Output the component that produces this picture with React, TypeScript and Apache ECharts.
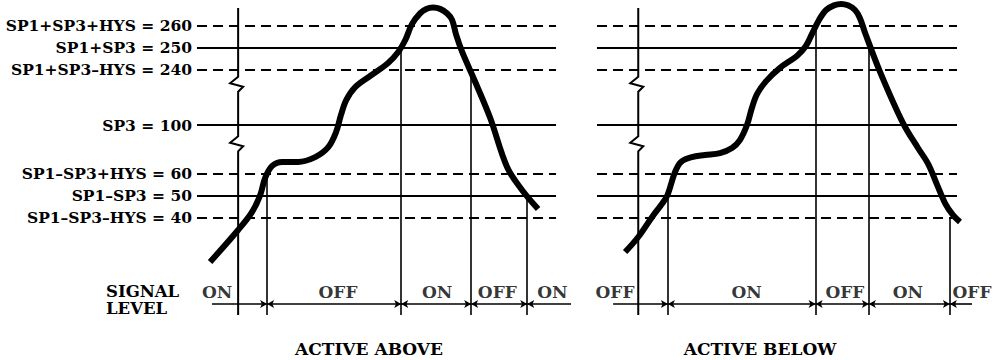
import React, { useEffect, useRef } from 'react';
import * as echarts from 'echarts';

// ---- Threshold levels (shown on both panels, labelled on the left one) ----
const LEVEL_LABELS = [
  'SP1+SP3+HYS = 260',
  'SP1+SP3 = 250',
  'SP1+SP3–HYS = 240',
  'SP3 = 100',
  'SP1–SP3+HYS = 60',
  'SP1–SP3 = 50',
  'SP1–SP3–HYS = 40',
];
const LEVEL_VALUES = [260, 250, 240, 100, 60, 50, 40];
const LEVEL_DASHED = [true, false, true, false, true, false, true];

// ---- Broken value axis ----
const Y_BREAKS = [
  { start: 73, end: 92 },
  { start: 118, end: 234 },
];
const Y_MIN = -4;
const Y_MAX = 268;
const X_MIN = -11;
const X_MAX = 89;
const LINE_START = -11;
const LINE_END = 85;
const SIGNAL_VALUE = 1;

// ---- ACTIVE ABOVE panel ----
const ABOVE_TIME = [-7.5, 0, 3.7, 5.9, 7.2, 9.1, 11.8, 16.0, 20.6, 24.1, 26.2, 27.5, 28.9, 31.3, 35.3, 40.1, 42.8, 44.7, 46.5, 48.7, 50.3, 52.1, 54.0, 55.9, 57.2, 58.3, 59.9, 63.4, 67.4, 71.9, 75.9, 80.2];
const ABOVE_VALUE = [20.0, 34.5, 42.6, 50.3, 58.0, 63.5, 65.3, 65.3, 67.5, 72.0, 96.9, 104.6, 111.3, 117.2, 237.2, 243.1, 248.1, 253.5, 260.8, 265.7, 267.6, 268.2, 267.6, 265.5, 262.6, 255.8, 248.1, 234.5, 103.2, 63.0, 52.6, 44.0];
const ABOVE_SWITCH_TIME = [7.75, 43.6, 62.3, 77.3];
const ABOVE_SWITCH_LEVEL = [60, 250, 240, 50];
const ABOVE_STATES = ['ON', 'OFF', 'ON', 'OFF', 'ON'];
const ABOVE_STATE_TIME = [-5.6, 26.7, 53.2, 69.3, 84.0];
const ABOVE_SIGNAL_START = -7;

// ---- ACTIVE BELOW panel ----
const BELOW_TIME = [-3.5, 0, 3.7, 6.1, 7.7, 9.8, 11.4, 14.3, 17.8, 21.8, 25.0, 27.1, 29.0, 30.3, 31.7, 34.1, 37.8, 42.3, 44.7, 46.3, 48.2, 50.1, 52.2, 54.1, 55.9, 57.8, 59.1, 60.5, 64.5, 70.6, 74.6, 77.3, 79.7, 81.8, 83.9, 85.8];
const BELOW_VALUE = [24.5, 31.3, 40.4, 45.8, 49.9, 60.7, 65.3, 67.5, 68.4, 69.3, 71.6, 93.2, 100.0, 107.7, 114.1, 234.9, 240.9, 246.3, 250.8, 256.2, 262.6, 267.1, 269.2, 269.8, 269.2, 267.1, 263.5, 256.7, 239.0, 100.9, 71.6, 64.4, 54.9, 46.7, 41.3, 38.1];
const BELOW_SWITCH_TIME = [7.9, 47.3, 61.5, 83.1];
const BELOW_SWITCH_LEVEL = [50, 260, 250, 40];
const BELOW_STATES = ['OFF', 'ON', 'OFF', 'ON', 'OFF'];
const BELOW_STATE_TIME = [-6.2, 28.9, 55.1, 71.9, 89];
const BELOW_SIGNAL_START = -6.7;

const PANEL_TITLES = ['ACTIVE ABOVE', 'ACTIVE BELOW'];

const FONT = 'DejaVu Serif';
const INK = '#000';

type Panel = {
  time: number[];
  value: number[];
  switchTime: number[];
  switchLevel: number[];
  states: string[];
  stateTime: number[];
  signalStart: number;
  showLabels: boolean;
};

const PANELS: Panel[] = [
  {
    time: ABOVE_TIME, value: ABOVE_VALUE, switchTime: ABOVE_SWITCH_TIME, switchLevel: ABOVE_SWITCH_LEVEL,
    states: ABOVE_STATES, stateTime: ABOVE_STATE_TIME, signalStart: ABOVE_SIGNAL_START, showLabels: true,
  },
  {
    time: BELOW_TIME, value: BELOW_VALUE, switchTime: BELOW_SWITCH_TIME, switchLevel: BELOW_SWITCH_LEVEL,
    states: BELOW_STATES, stateTime: BELOW_STATE_TIME, signalStart: BELOW_SIGNAL_START, showLabels: false,
  },
];

function panelSeries(p: Panel, i: number): any[] {
  const levelLines = LEVEL_VALUES.map((v, k) => [
    {
      name: LEVEL_LABELS[k],
      coord: [LINE_START, v],
      lineStyle: { color: INK, width: 2, type: LEVEL_DASHED[k] ? [10, 6] : 'solid' },
      label: {
        show: p.showLabels,
        position: 'start',
        distance: 5,
        formatter: '{b}',
        color: INK,
        fontFamily: FONT,
        fontWeight: 'bold',
        fontSize: 15.5,
      },
    },
    { coord: [LINE_END, v] },
  ]);
  const switchLines = p.switchTime.map((t, k) => [
    { coord: [t, p.switchLevel[k]], lineStyle: { color: INK, width: 1.6, type: 'solid' }, label: { show: false } },
    { coord: [t, Y_MIN] },
  ]);
  const stops = [p.signalStart, ...p.switchTime, X_MAX];
  const signalLines = stops.slice(0, -1).map((s, k) => [
    {
      coord: [s, SIGNAL_VALUE],
      symbol: k === 0 ? 'none' : 'arrow',
      lineStyle: { color: INK, width: 1.6, type: 'solid' },
      label: { show: false },
    },
    { coord: [stops[k + 1], SIGNAL_VALUE], symbol: k === stops.length - 2 ? 'none' : 'arrow' },
  ]);

  return [
    {
      type: 'line',
      xAxisIndex: i,
      yAxisIndex: i,
      data: p.time.map((t, k) => [t, p.value[k]]),
      smooth: 0.35,
      showSymbol: false,
      clip: false,
      z: 5,
      lineStyle: { color: INK, width: 6 },
      markLine: {
        silent: true,
        animation: false,
        symbol: ['none', 'none'],
        symbolSize: [6, 7],
        data: [...levelLines, ...switchLines, ...signalLines],
      },
    },
    {
      type: 'custom',
      xAxisIndex: i,
      yAxisIndex: i,
      silent: true,
      clip: false,
      z: 4,
      data: [[0, 0]],
      renderItem: (_params: any, api: any) => {
        const top = api.coord([0, Y_MAX]);
        const bottom = api.coord([0, Y_MIN]);
        const x = top[0];
        const pts: number[][] = [[x, top[1]]];
        [...Y_BREAKS].reverse().forEach((b) => {
          const a = api.coord([0, b.end]);
          const c = api.coord([0, b.start]);
          const m = (a[1] + c[1]) / 2;
          pts.push([x, m - 7.5], [x - 8, m - 1], [x + 5, m + 2.5], [x, m + 7.5]);
        });
        pts.push([x, bottom[1]]);
        return {
          type: 'polyline',
          shape: { points: pts },
          style: { stroke: INK, lineWidth: 2, fill: null },
        };
      },
    },
    {
      type: 'scatter',
      xAxisIndex: i,
      yAxisIndex: i,
      silent: true,
      symbolSize: 1,
      itemStyle: { color: 'rgba(0,0,0,0)' },
      data: p.states.map((s, k) => ({ name: s, value: [p.stateTime[k], SIGNAL_VALUE] })),
      label: {
        show: true,
        position: 'top',
        distance: 3,
        formatter: '{b}',
        color: INK,
        fontFamily: FONT,
        fontWeight: 'bold',
        fontSize: 17,
      },
    },
  ];
}

export default function App() {
  const ref = useRef<HTMLDivElement>(null);
  useEffect(() => {
    if (!ref.current) return;
    const chart = echarts.init(ref.current, null, { renderer: 'svg' });
    const grids = [
      { left: 197, top: 8, width: 374, height: 307 },
      { left: 597, top: 8, width: 375, height: 307 },
    ];
    const option: any = {
      animation: false,
      backgroundColor: '#fff',
      grid: grids,
      xAxis: grids.map((_, i) => ({
        type: 'value',
        gridIndex: i,
        min: X_MIN,
        max: X_MAX,
        show: false,
      })),
      yAxis: grids.map((_, i) => ({
        type: 'value',
        gridIndex: i,
        min: Y_MIN,
        max: Y_MAX,
        breaks: Y_BREAKS.map((b) => ({ start: b.start, end: b.end, gap: 1 })),
        breakArea: { show: false },
        axisLine: { show: false },
        axisTick: { show: false },
        axisLabel: { show: false },
        splitLine: { show: false },
      })),
      title: PANEL_TITLES.map((t, i) => ({
        text: t,
        left: i === 0 ? 364 : 755,
        top: 335,
        textAlign: 'center',
        textStyle: { fontFamily: FONT, fontWeight: 'bold', fontSize: 17, color: INK },
      })),
      graphic: [
        {
          type: 'text',
          left: 106,
          top: 283,
          style: {
            text: 'SIGNAL\nLEVEL',
            fontFamily: FONT,
            fontWeight: 'bold',
            fontSize: 16.5,
            lineHeight: 17,
            fill: INK,
          },
        },
      ],
      series: PANELS.flatMap((p, i) => panelSeries(p, i)),
    };
    chart.setOption(option);
    return () => chart.dispose();
  }, []);
  return (
    <div
      ref={ref}
      style={{ position: 'fixed', left: 0, top: 0, width: 1003, height: 360, background: '#fff' }}
    />
  );
}
